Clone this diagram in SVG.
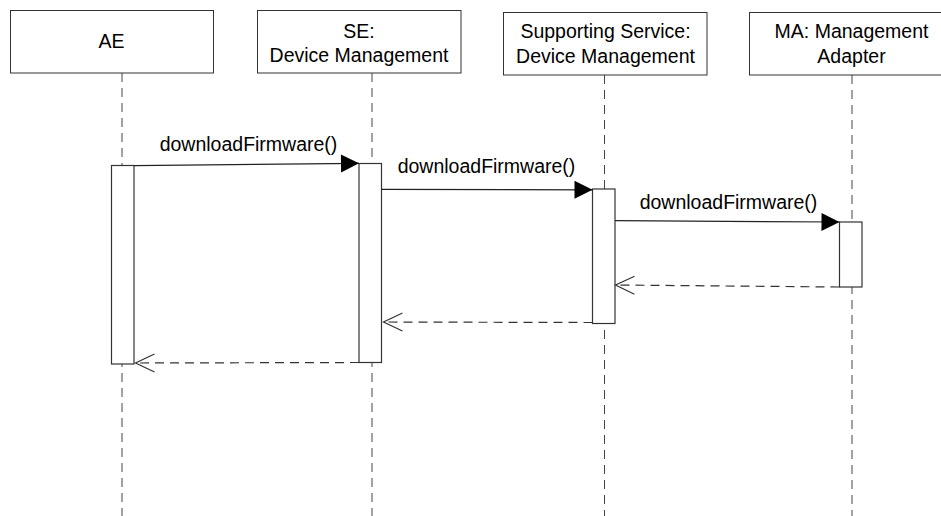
<svg xmlns="http://www.w3.org/2000/svg" width="941" height="516" viewBox="0 0 941 516">
  <style>
    .box { fill: #ffffff; stroke: #333333; stroke-width: 1; }
    .bar { fill: #ffffff; stroke: #333333; stroke-width: 1.2; }
    .life { fill: none; stroke: #444444; stroke-width: 1; stroke-dasharray: 9 6; }
    .msg { fill: none; stroke: #222222; stroke-width: 1.2; }
    .ret { fill: none; stroke: #333333; stroke-width: 1.2; stroke-dasharray: 9 6; }
    .txt { font-family: "Liberation Sans", Arial, sans-serif; font-size: 19.5px; fill: #000000; text-anchor: middle; }
    .head { fill: #000000; stroke: none; }
    .open { fill: none; stroke: #333333; stroke-width: 1.2; }
  </style>
  <defs>
    <marker id="filled" markerUnits="userSpaceOnUse" markerWidth="18" markerHeight="18" refX="18" refY="9" orient="auto" overflow="visible">
      <path class="head" d="M0,0 L18,9 L0,18 Z"/>
    </marker>
    <marker id="openhead" markerUnits="userSpaceOnUse" markerWidth="19" markerHeight="18" refX="19" refY="9" orient="auto" overflow="visible">
      <path class="open" d="M0,0 L19,9 L0,18"/>
    </marker>
  </defs>
  <rect width="941" height="516" fill="#ffffff"/>

  <g id="lifelines">
    <line class="life" x1="122" y1="73" x2="122" y2="516"/>
    <line class="life" x1="372" y1="73" x2="372" y2="516"/>
    <line class="life" x1="604.5" y1="75" x2="604.5" y2="516"/>
    <line class="life" x1="852" y1="75" x2="852" y2="516"/>
  </g>

  <g id="node-ae">
    <rect class="box" x="10.5" y="10.5" width="203" height="62.5"/>
    <text class="txt" x="111.5" y="48">AE</text>
    <rect class="bar" x="111.5" y="165.5" width="22.5" height="198.5"/>
  </g>

  <g id="node-se">
    <rect class="box" x="257.5" y="10.5" width="203.5" height="62.5"/>
    <text class="txt" x="359" y="37.5">SE:</text>
    <text class="txt" x="359" y="62">Device Management</text>
    <rect class="bar" x="359" y="163.5" width="22.5" height="199"/>
  </g>

  <g id="node-supporting">
    <rect class="box" x="503.5" y="12.5" width="203.5" height="62.5"/>
    <text class="txt" x="605.5" y="38">Supporting Service:</text>
    <text class="txt" x="605.5" y="62.5">Device Management</text>
    <rect class="bar" x="592.5" y="189" width="22.5" height="134.5"/>
  </g>

  <g id="node-ma">
    <rect class="box" x="749.5" y="12.5" width="204" height="62.5"/>
    <text class="txt" x="851.5" y="38">MA: Management</text>
    <text class="txt" x="851.5" y="62.5">Adapter</text>
    <rect class="bar" x="839.5" y="222" width="22.5" height="65"/>
  </g>

  <g id="connectors">
    <line class="msg" x1="134" y1="165.7" x2="359" y2="163.3" marker-end="url(#filled)"/>
    <text class="txt" x="248.5" y="150.5">downloadFirmware()</text>

    <line class="msg" x1="381.5" y1="189.3" x2="592.5" y2="189.8" marker-end="url(#filled)"/>
    <text class="txt" x="486.5" y="173">downloadFirmware()</text>

    <line class="msg" x1="615" y1="220.7" x2="839.5" y2="222" marker-end="url(#filled)"/>
    <text class="txt" x="728.5" y="209">downloadFirmware()</text>

    <line class="ret" x1="839.5" y1="287" x2="615.5" y2="285" marker-end="url(#openhead)"/>
    <line class="ret" x1="592.5" y1="322.5" x2="383.5" y2="322" marker-end="url(#openhead)"/>
    <line class="ret" x1="359" y1="362.5" x2="135.5" y2="363" marker-end="url(#openhead)"/>
  </g>
</svg>
